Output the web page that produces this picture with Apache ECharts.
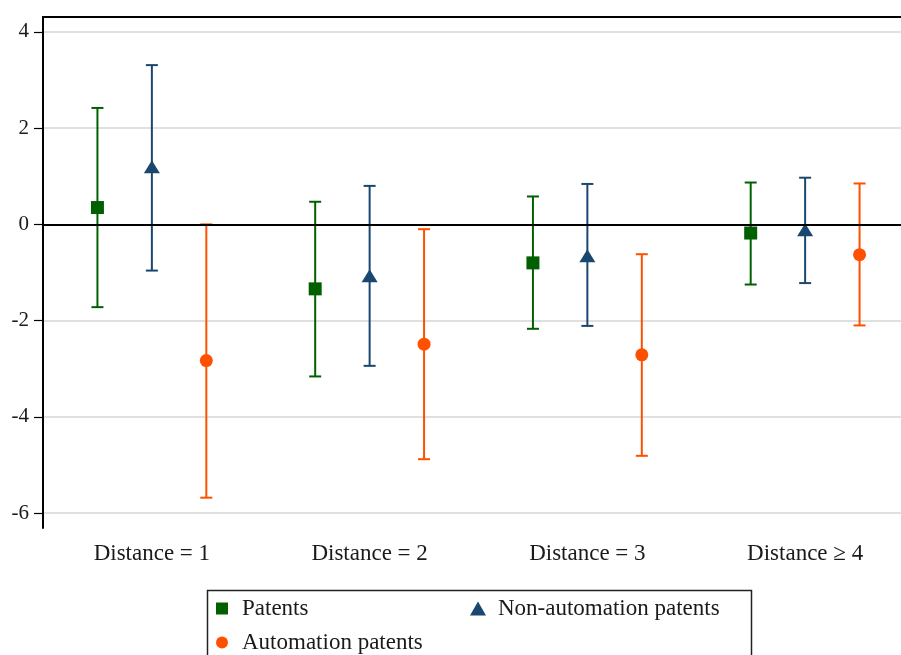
<!DOCTYPE html>
<html>
<head>
<meta charset="utf-8">
<script src="https://cdn.jsdelivr.net/npm/echarts@6/dist/echarts.min.js"></script>
<style>
html,body{margin:0;padding:0;background:#fff;}
#chart{width:901px;height:655px;}
</style>
</head>
<body>
<div id="chart"></div>
<script>
// ---- Data ----
var categories = ['Distance = 1', 'Distance = 2', 'Distance = 3', 'Distance \u2265 4'];
var seriesNames = ['Patents', 'Non-automation patents', 'Automation patents'];

var patentsMean = [0.35, -1.34, -0.80, -0.18];
var patentsLow  = [-1.72, -3.16, -2.17, -1.25];
var patentsHigh = [2.42, 0.47, 0.58, 0.87];

var nonAutoMean = [1.20, -1.07, -0.65, -0.11];
var nonAutoLow  = [-0.96, -2.94, -2.11, -1.22];
var nonAutoHigh = [3.31, 0.80, 0.84, 0.97];

var autoMean = [-2.83, -2.49, -2.71, -0.63];
var autoLow  = [-5.68, -4.88, -4.81, -2.10];
var autoHigh = [0.00, -0.10, -0.62, 0.85];

var yTicks = [-6, -4, -2, 0, 2, 4];

// ---- Styling ----
var colors = ['#006000', '#1a476f', '#ff5000'];
var offsets = [-0.25, 0, 0.25];
var symbols = ['rect', 'triangle', 'circle'];
var symbolSizes = [13, [16, 13], 13];
var FONT = '"Liberation Serif", "DejaVu Serif", serif';
var TXT = '#1a1a1a';

function pts(mean, off) {
  return mean.map(function (v, i) { return [i + 1 + off, v]; });
}
function bars(low, high, off) {
  return low.map(function (v, i) { return [i + 1 + off, v, high[i]]; });
}

function renderErr(color) {
  return function (params, api) {
    var x = api.value(0);
    var lo = api.coord([x, api.value(1)]);
    var hi = api.coord([x, api.value(2)]);
    var hw = 6;
    var st = { stroke: color, lineWidth: 2 };
    return {
      type: 'group',
      children: [
        { type: 'line', shape: { x1: lo[0], y1: lo[1], x2: hi[0], y2: hi[1] }, style: st },
        { type: 'line', shape: { x1: lo[0] - hw, y1: lo[1], x2: lo[0] + hw, y2: lo[1] }, style: st },
        { type: 'line', shape: { x1: hi[0] - hw, y1: hi[1], x2: hi[0] + hw, y2: hi[1] }, style: st }
      ]
    };
  };
}

var means = [patentsMean, nonAutoMean, autoMean];
var lows = [patentsLow, nonAutoLow, autoLow];
var highs = [patentsHigh, nonAutoHigh, autoHigh];

var series = [];
series.push({
  type: 'line', xAxisIndex: 1, data: [], silent: true,
  markLine: {
    silent: true, symbol: 'none', label: { show: false },
    lineStyle: { color: '#000', width: 2, type: 'solid' },
    data: [{ yAxis: 0 }]
  }
});
for (var s = 0; s < 3; s++) {
  series.push({
    type: 'custom', name: seriesNames[s], xAxisIndex: 1,
    renderItem: renderErr(colors[s]),
    encode: { x: 0, y: [1, 2] },
    data: bars(lows[s], highs[s], offsets[s]),
    z: 3
  });
}
for (var s2 = 0; s2 < 3; s2++) {
  series.push({
    type: 'scatter', name: seriesNames[s2], xAxisIndex: 1,
    symbol: symbols[s2], symbolSize: symbolSizes[s2],
    itemStyle: { color: colors[s2], opacity: 1 },
    data: pts(means[s2], offsets[s2]),
    z: 4
  });
}

var chart = echarts.init(document.getElementById('chart'), null, { renderer: 'canvas' });
chart.setOption({
  animation: false,
  backgroundColor: '#fff',
  color: colors,
  grid: { left: 43, top: 17, width: 871, height: 511, containLabel: false, outerBoundsMode: 'none' },
  xAxis: [
    {
      type: 'category', data: categories, position: 'bottom',
      boundaryGap: true,
      axisLine: { lineStyle: { color: '#000', width: 2 } },
      axisTick: { alignWithLabel: true, length: 8, lineStyle: { color: '#000', width: 1.2 } },
      axisLabel: { fontFamily: FONT, fontSize: 23, color: TXT, margin: 14 },
      splitLine: { show: false }
    },
    {
      type: 'value', position: 'top', min: 0.5, max: 4.5,
      axisLine: { show: true, onZero: false, lineStyle: { color: '#000', width: 2 } },
      axisTick: { show: false }, axisLabel: { show: false }, splitLine: { show: false }
    }
  ],
  yAxis: {
    type: 'value', min: -6.31, max: 4.31,
    axisLine: { show: true, onZero: false, lineStyle: { color: '#000', width: 2 } },
    axisTick: { show: true, length: 9, customValues: yTicks, lineStyle: { color: '#000', width: 1.2 } },
    axisLabel: { customValues: yTicks, fontFamily: FONT, fontSize: 21, color: TXT, margin: 14, padding: [5, 0, 0, 0] },
    splitLine: { show: true, customValues: yTicks, lineStyle: { color: '#e0e0e0', width: 2 } }
  },
  legend: [
    {
      orient: 'vertical', left: 216, top: 597, padding: 0,
      itemWidth: 12, itemHeight: 12, itemGap: 11,
      textStyle: { fontFamily: FONT, fontSize: 23, color: TXT, lineHeight: 22, padding: [0, 0, 0, 9] },
      data: [
        { name: 'Patents', icon: 'rect', itemStyle: { color: colors[0] } },
        { name: 'Automation patents', icon: 'circle', itemStyle: { color: colors[2] } }
      ]
    },
    {
      orient: 'vertical', left: 470, top: 597, padding: 0,
      itemWidth: 16, itemHeight: 14, itemGap: 11,
      textStyle: { fontFamily: FONT, fontSize: 23, color: TXT, lineHeight: 22, padding: [0, 0, 0, 7] },
      data: [
        { name: 'Non-automation patents', icon: 'triangle', itemStyle: { color: colors[1] } }
      ]
    }
  ],
  graphic: [
    {
      type: 'rect', left: 205, top: 588, silent: true,
      shape: { x: 0, y: 0, width: 544, height: 80 },
      style: { fill: 'none', stroke: '#222', lineWidth: 1.5 }
    }
  ],
  series: series
});
</script>
</body>
</html>
